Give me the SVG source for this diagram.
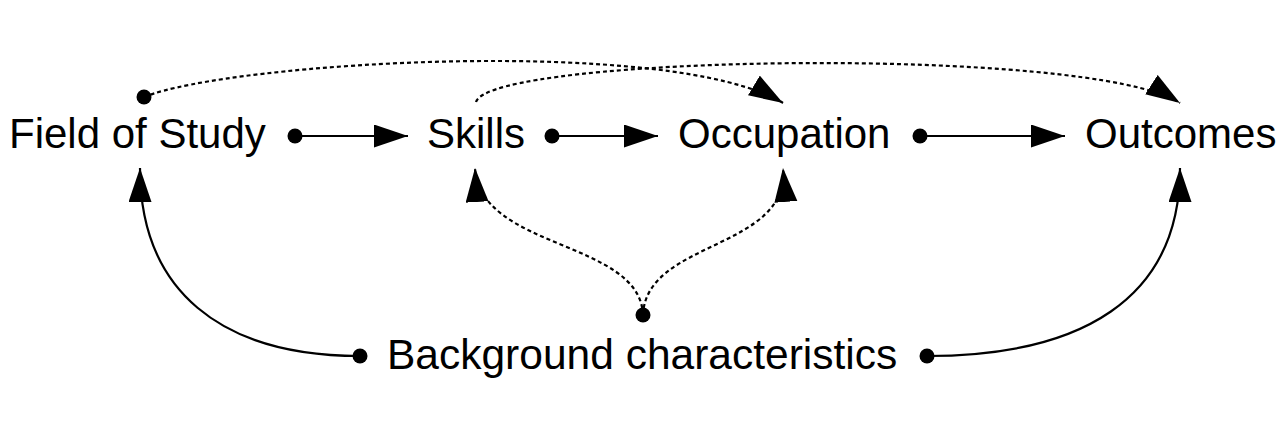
<svg xmlns="http://www.w3.org/2000/svg" width="1288" height="430" viewBox="0 0 1288 430">
  <style>
    .label { font-family: "Liberation Sans", Arial, sans-serif; font-size: 42px; fill: #000; }
    .edge { fill: none; stroke: #000; stroke-width: 2.2; }
    .dotted { stroke-dasharray: 4 3; }
    .dot { fill: #000; }
  </style>
  <defs>
    <marker id="arrow" markerUnits="userSpaceOnUse" markerWidth="36" markerHeight="24" refX="34" refY="11.5" orient="auto">
      <path d="M0,0 L34,11.5 L0,23 z" fill="#000"/>
    </marker>
  </defs>
  <rect width="1288" height="430" fill="#fff"/>

  <!-- nodes -->
  <g id="field-of-study">
    <text class="label" x="9" y="148">Field of Study</text>
  </g>
  <g id="skills">
    <text class="label" x="427" y="148">Skills</text>
  </g>
  <g id="occupation">
    <text class="label" x="678" y="148">Occupation</text>
  </g>
  <g id="outcomes">
    <text class="label" x="1085" y="148">Outcomes</text>
  </g>
  <g id="background">
    <text class="label" x="387" y="369" style="font-size:42.5px">Background characteristics</text>
  </g>

  <!-- connectors -->
  <g id="connectors">
    <!-- main chain -->
    <path class="edge" d="M295,136 L408,136" marker-end="url(#arrow)"/>
    <path class="edge" d="M552,136 L658,136" marker-end="url(#arrow)"/>
    <path class="edge" d="M920,136 L1065,136" marker-end="url(#arrow)"/>

    <!-- indirect paths over the top -->
    <path class="edge dotted" d="M144,97 C230,62 670,35 783,103" marker-end="url(#arrow)"/>
    <path class="edge dotted" d="M476,102 C490,55 1090,45 1180,103" marker-end="url(#arrow)"/>

    <!-- background influences -->
    <path class="edge" d="M360,356 C220,356 140,290 140,168" marker-end="url(#arrow)"/>
    <path class="edge" d="M927,356 C1080,356 1180,300 1180,168" marker-end="url(#arrow)"/>
    <path class="edge dotted" d="M643,315 C640,240 480,250 475,168" marker-end="url(#arrow)"/>
    <path class="edge dotted" d="M643,315 C646,240 790,250 783,168" marker-end="url(#arrow)"/>

    <!-- origin dots -->
    <circle class="dot" cx="144" cy="97" r="7.5"/>
    <circle class="dot" cx="295" cy="136" r="7.5"/>
    <circle class="dot" cx="552" cy="136" r="7.5"/>
    <circle class="dot" cx="920" cy="136" r="7.5"/>
    <circle class="dot" cx="643" cy="315" r="7.5"/>
    <circle class="dot" cx="360" cy="356" r="7.5"/>
    <circle class="dot" cx="927" cy="356" r="7.5"/>
  </g>
</svg>
